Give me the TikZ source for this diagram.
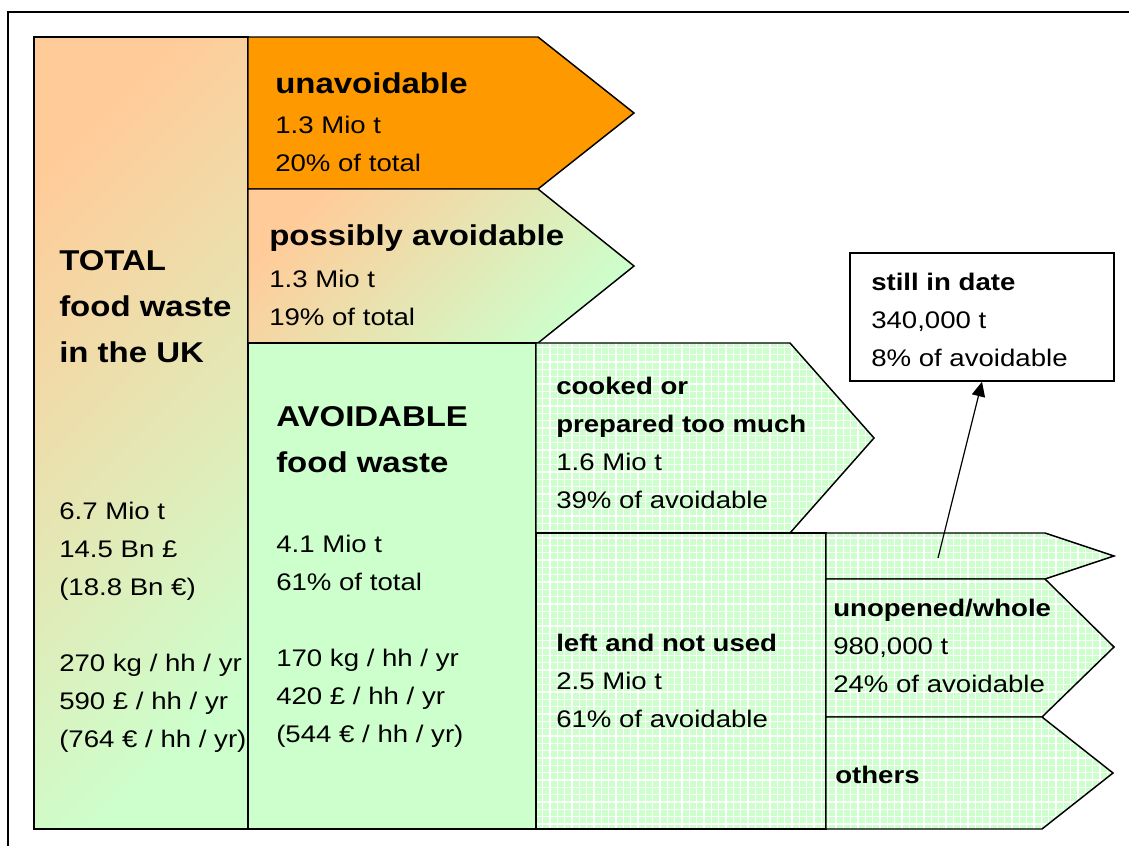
\documentclass[tikz,border=0pt]{standalone}
\usepackage{fontspec}
\setmainfont{Liberation Sans}[FakeStretch=1.15]
\usepackage{tikz}
\usetikzlibrary{arrows.meta, patterns.meta}

\definecolor{peach}{HTML}{FFCC99}
\definecolor{mint}{HTML}{CCFFCC}
\definecolor{amber}{HTML}{FF9900}

\tikzset{
  part/.style={draw=black, line width=1.1pt, line join=miter},
  fade/.style={part, shading=axis, top color=peach, bottom color=mint, shading angle=45},
  mesh/.style={part, preaction={fill=mint},
    pattern={Hatch[distance=5.5pt, angle=0, line width=1.2pt]}, pattern color=white},
  % nodes sit on the baseline of their last line
  txt/.style={anchor=base west, align=left, inner sep=0pt,
    font=\fontsize{18}{28.5}\selectfont},
  big/.style={txt, font=\fontsize{21.5}{34.5}\selectfont\bfseries}
}

\begin{document}
\begin{tikzpicture}[x=0.75pt, y=-0.75pt]
\useasboundingbox (0,0) rectangle (1129,846);
\draw[line width=1.5pt] (8,846) -- (8,12) -- (1129,12);

% total column
\draw[fade] (34,37) rectangle (248,829);
% unavoidable and possibly avoidable
\draw[part, fill=amber] (248,37) -- (538,37) -- (634,113) -- (538,189) -- (248,189) -- cycle;
\draw[fade] (248,189) -- (538,189) -- (634,266) -- (538,343) -- (248,343) -- cycle;
% avoidable
\draw[part, fill=mint] (248,343) rectangle (536,829);
\draw[mesh] (536,343) -- (790,343) -- (874,438) -- (790,533) -- (536,533) -- cycle;
\draw[mesh] (536,533) rectangle (826,829);
% left and not used, split up
\draw[mesh] (826,533) -- (1045,533) -- (1114,556) -- (1045,579) -- (826,579) -- cycle;
\draw[mesh] (826,579) -- (1045,579) -- (1114,647) -- (1042,717) -- (826,717) -- cycle;
\draw[mesh] (826,717) -- (1042,717) -- (1113,773) -- (1042,829) -- (826,829) -- cycle;

% texts
\node[big] (ttl) at (59,362) {TOTAL\\food waste\\in the UK};
\node[txt] (ttlnum) at (59,747) {6.7 Mio t\\14.5 Bn £\\(18.8 Bn €)\\[28.5pt]270 kg / hh / yr\\590 £ / hh / yr\\(764 € / hh / yr)};

\node[big] (unav) at (275,93) {unavoidable};
\node[txt] (unavnum) at (275,171) {1.3 Mio t\\20\% of total};

\node[big] (poss) at (269,245) {possibly avoidable};
\node[txt] (possnum) at (269,325) {1.3 Mio t\\19\% of total};

\node[big] (avoid) at (276,472) {AVOIDABLE\\food waste};
\node[txt] (avoidnum) at (276,742) {4.1 Mio t\\61\% of total\\[28.5pt]170 kg / hh / yr\\420 £ / hh / yr\\(544 € / hh / yr)};

\node[txt] (cooked) at (556,508) {\textbf{cooked or}\\\textbf{prepared too much}\\1.6 Mio t\\39\% of avoidable};
\node[txt] (left) at (556,727) {\textbf{left and not used}\\2.5 Mio t\\61\% of avoidable};
\node[txt] (unopened) at (833,692) {\textbf{unopened/whole}\\980,000 t\\24\% of avoidable};
\node[txt] (others) at (835,783) {\textbf{others}};

% still in date
\node[draw=black, line width=1.1pt, fill=white, minimum width=198pt, minimum height=96pt, inner sep=0pt] (date) at (982,317) {};
\node[txt] (datetxt) at (871,366) {\textbf{still in date}\\340,000 t\\8\% of avoidable};
\coordinate (src) at (938,558);
\draw[line width=0.9pt, -{Triangle[length=11pt, width=10pt]}] (src) -- (date.south);
\end{tikzpicture}
\end{document}
